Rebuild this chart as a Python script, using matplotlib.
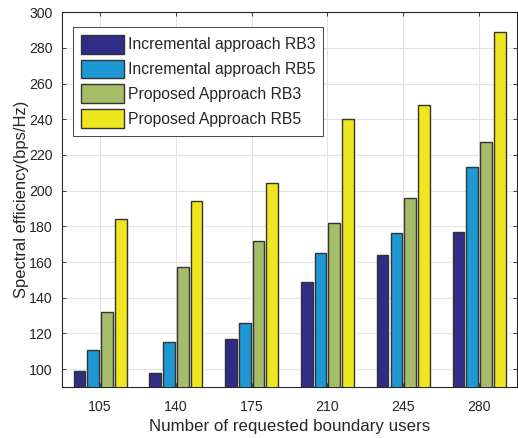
import numpy as np
import matplotlib.pyplot as plt

plt.rcParams['font.family'] = ['Liberation Sans', 'DejaVu Sans']

users = ['105', '140', '175', '210', '245', '280']
inc_rb3 = [99, 98, 117, 149, 164, 177]
inc_rb5 = [111, 115, 126, 165, 176, 213]
prop_rb3 = [132, 157, 172, 182, 196, 227]
prop_rb5 = [184, 194, 204, 240, 248, 289]
names = ['Incremental approach RB3', 'Incremental approach RB5',
         'Proposed Approach RB3', 'Proposed Approach RB5']
colors = ['#312C85', '#1E98D2', '#A5BD68', '#EEE61F']

fig = plt.figure(figsize=(5.18, 4.38), dpi=100)
ax = fig.add_axes([0.12, 0.1164, 0.878, 0.856])

x = np.arange(1, len(users) + 1)
series = [inc_rb3, inc_rb5, prop_rb3, prop_rb5]
slot = 0.727 / 4
for i, (vals, c, n) in enumerate(zip(series, colors, names)):
    ax.bar(x + (i - 1.5) * slot, vals, width=slot * 0.85, color=c,
           edgecolor='#333333', linewidth=1.0, label=n, zorder=3)

txt = '#262626'
ax.set_xlim(0.5, 6.5)
ax.set_ylim(90, 300)
ax.set_xticks(x)
ax.set_xticklabels(users)
ax.set_yticks(np.arange(100, 301, 20))
ax.tick_params(direction='in', top=True, right=True, labelsize=10.2,
               colors=txt, length=3, width=0.6)
ax.tick_params(axis='x', pad=9)
ax.tick_params(axis='y', pad=7)
ax.grid(True, color='#E3E3E3', linewidth=0.8, zorder=0)
for s in ax.spines.values():
    s.set_color('#262626')
    s.set_linewidth(0.8)

ax.set_xlabel('Number of requested boundary users', fontsize=12.2,
              color=txt, labelpad=4)
ax.set_ylabel('Spectral efficiency(bps/Hz)', fontsize=11.9, color=txt,
              labelpad=0)

leg = ax.legend(loc='upper left', bbox_to_anchor=(0.024, 0.96), fontsize=11.3,
                fancybox=False, edgecolor='#262626', framealpha=1,
                borderaxespad=0, handlelength=2.75, handleheight=1.48,
                handletextpad=0.25, labelspacing=0.38, borderpad=0.48)
leg.get_frame().set_linewidth(0.6)
for t in leg.get_texts():
    t.set_color(txt)

fig.savefig('out.png', dpi=100)
